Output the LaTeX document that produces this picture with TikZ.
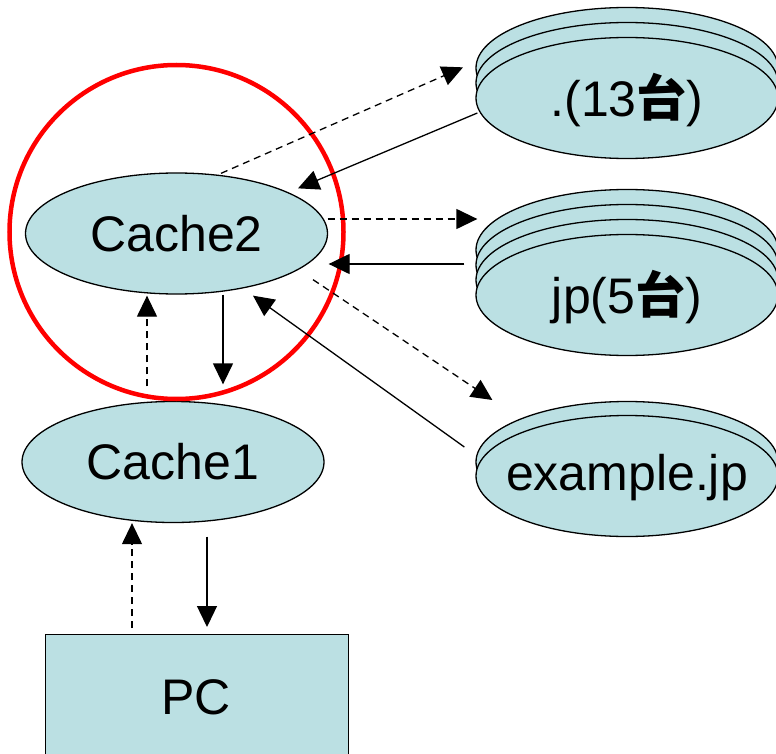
\documentclass[tikz,border=0pt]{standalone}
\usepackage{fontspec}
\setmainfont{Liberation Sans}
\newfontfamily\cjk{Noto Sans CJK JP}
\usetikzlibrary{arrows.meta,calc,shapes.geometric}
\definecolor{srvfill}{RGB}{187,224,227}
\tikzset{
  srv/.style={ellipse, draw=black, line width=1.3pt, fill=srvfill,
    minimum width=302pt, minimum height=121pt, inner sep=0pt},
  lbl/.style={font=\fontsize{50}{56}\selectfont},
  req/.style={-{Triangle[length=21pt,width=20pt]}, line width=1.3pt,
    dash pattern=on 7pt off 5pt},
  resp/.style={-{Triangle[length=21pt,width=20pt]}, line width=1.3pt},
}
\begin{document}
\begin{tikzpicture}[x=1pt,y=-1pt]
  \useasboundingbox[fill=white] (0,0) rectangle (776,754);

  % caches and client
  \node[srv] (c2) at (176.5,233.5) {};
  \node[lbl] (c2label) at (c2.center) {Cache2};
  \node[srv] (c1) at (173,462) {};
  \node[lbl] (c1label) at (c1.center) {Cache1};
  \node[rectangle, draw=black, line width=1.3pt, fill=srvfill,
        minimum width=303pt, minimum height=160pt, inner sep=0pt,
        anchor=north west] (pc) at (44.5,634) {};
  \node[lbl] (pclabel) at (196,697) {PC};

  % highlight around the second-level cache
  \node[circle, draw=red, line width=4.5pt, minimum width=334pt,
        minimum height=334pt, inner sep=0pt] (ring) at (176.5,232) {};

  % root servers: three stacked disks
  \node[srv] (r3) at (627,68) {};
  \node[srv] (r2) at (627,83) {};
  \node[srv] (root) at (627,98) {};
  \node[lbl] (rootlabel) at ([yshift=-2pt]root.center) {.(13{\cjk\bfseries 台})};

  % jp servers: four stacked disks
  \node[srv] (j4) at (627,250) {};
  \node[srv] (j3) at (627,265) {};
  \node[srv] (j2) at (627,280) {};
  \node[srv] (jp) at (627,295) {};
  \node[lbl] (jplabel) at ([yshift=-2pt]jp.center) {jp(5{\cjk\bfseries 台})};

  % example.jp servers: two stacked disks
  \node[srv] (e2) at (627,462) {};
  \node[srv] (ex) at (627,476) {};
  \node[lbl] (exlabel) at ([yshift=-2pt]ex.center) {example.jp};

  % queries (dashed) and answers (solid)
  \draw[req]  ([shift={(44.5pt,-1pt)}]c2.north) -- ([shift={(-164pt,-30.5pt)}]root.north);
  \draw[resp] ([shift={(2pt,-15pt)}]root.west) -- ([shift={(121.5pt,-16pt)}]c2.north);
  \draw[req]  ([shift={(-0.5pt,14.5pt)}]c2.east) -- ([shift={(2pt,76pt)}]jp.west);
  \draw[resp] ([shift={(-11pt,31pt)}]jp.west) -- ([shift={(0.5pt,-30.5pt)}]c2.east);
  \draw[req]  ([shift={(136.5pt,15pt)}]c2.south) -- ([shift={(17pt,76pt)}]ex.west);
  \draw[resp] ([shift={(-11pt,29pt)}]ex.west) -- ([shift={(76.5pt,-1pt)}]c2.south);
  \draw[req]  ([shift={(-26pt,14.5pt)}]c1.north) -- ([shift={(-29.5pt,-1pt)}]c2.south);
  \draw[resp] ([shift={(46.5pt,0pt)}]c2.south) -- ([shift={(50pt,16.5pt)}]c1.north);
  \draw[req]  ([shift={(87.5pt,6pt)}]pc.north west) -- ([shift={(-41pt,0pt)}]c1.south);
  \draw[resp] ([shift={(34pt,-13.5pt)}]c1.south) -- ([shift={(162.5pt,7pt)}]pc.north west);
\end{tikzpicture}
\end{document}
